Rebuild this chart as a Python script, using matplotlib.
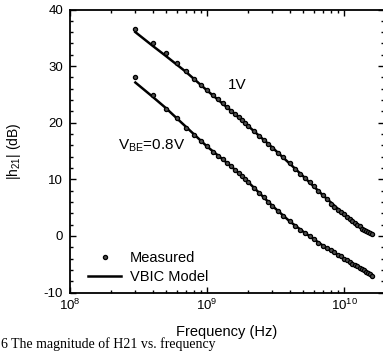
import matplotlib
matplotlib.use("Agg")
import matplotlib.pyplot as plt
from matplotlib.ticker import MultipleLocator, LogLocator, NullFormatter

plt.rcParams['font.family'] = ['Liberation Sans', 'DejaVu Sans']
plt.rcParams['mathtext.fontset'] = 'custom'
plt.rcParams['mathtext.rm'] = 'Liberation Sans'
plt.rcParams['mathtext.it'] = 'Liberation Sans:italic'
plt.rcParams['axes.unicode_minus'] = False

# measured data, frequency in GHz, |h21| in dB
f_meas = [0.3, 0.4, 0.5, 0.6, 0.7, 0.8, 0.9, 1.0, 1.1, 1.2, 1.3, 1.4, 1.5, 1.6, 1.7, 1.8,
          1.9, 2.0, 2.2, 2.4, 2.6, 2.8, 3.0, 3.3, 3.6, 4.0, 4.4, 4.8, 5.2, 5.6, 6.0, 6.5,
          7.0, 7.5, 8.0, 8.5, 9.0, 9.5, 10.0, 10.5, 11.0, 11.5, 12.0, 12.5, 13.0, 13.5,
          14.0, 14.5, 15.0, 15.5, 16.0]
h21_1v = [36.5, 34.0, 32.3, 30.5, 29.1, 27.8, 26.7, 25.8, 24.9, 24.1, 23.4, 22.7, 22.1, 21.5,
          21.0, 20.4, 19.9, 19.4, 18.5, 17.7, 16.9, 16.2, 15.6, 14.7, 13.9, 12.8, 11.9, 11.0,
          10.2, 9.5, 8.8, 8.0, 7.2, 6.5, 5.6, 5.1, 4.6, 4.2, 3.8, 3.3, 2.9, 2.6, 2.3, 2.0,
          1.7, 1.3, 1.1, 0.9, 0.7, 0.5, 0.4]
h21_08v = [28.1, 24.9, 22.5, 20.8, 19.0, 17.8, 16.7, 15.8, 14.9, 14.2, 13.5, 12.9, 12.4, 11.7,
           11.1, 10.5, 10.0, 9.5, 8.5, 7.6, 6.8, 6.0, 5.3, 4.4, 3.6, 2.6, 1.8, 1.1, 0.5, -0.1,
           -0.6, -1.2, -1.7, -2.1, -2.5, -2.9, -3.3, -3.6, -4.0, -4.3, -4.6, -4.9, -5.2, -5.4,
           -5.7, -5.9, -6.1, -6.4, -6.6, -6.8, -7.0]

# VBIC model
f_model = [0.3, 0.4, 0.5, 0.7, 1.0, 1.5, 2.0, 3.0, 4.0, 5.0, 7.0, 10.0, 13.0, 16.0]
model_1v = [36.0, 33.6, 31.8, 29.0, 25.7, 22.1, 19.4, 15.6, 12.8, 10.6, 7.2, 3.8, 1.7, 0.4]
model_08v = [27.1, 24.6, 22.6, 19.3, 15.8, 12.3, 9.5, 5.3, 2.6, 0.8, -1.7, -4.0, -5.7, -7.0]

fm = [f * 1e9 for f in f_meas]
fmod = [f * 1e9 for f in f_model]

fig = plt.figure(figsize=(3.83, 3.51), dpi=100)
ax = fig.add_axes([70 / 383, 1 - 292.5 / 351, 313.5 / 383, 283 / 351])

ax.plot(fmod, model_1v, color='black', lw=1.8, label='VBIC Model')
ax.plot(fmod, model_08v, color='black', lw=1.8)
ax.plot(fm, h21_1v, 'o', ms=3.0, mfc='0.3', mec='black', mew=0.9, label='Measured')
ax.plot(fm, h21_08v, 'o', ms=3.0, mfc='0.3', mec='black', mew=0.9)

ax.set_xscale('log')
ax.set_xlim(1e8, 1.94e10)
ax.set_ylim(-10, 40)
ax.yaxis.set_major_locator(MultipleLocator(10))
ax.yaxis.set_minor_locator(MultipleLocator(2))
ax.xaxis.set_minor_locator(LogLocator(base=10, subs=range(2, 10)))
ax.xaxis.set_minor_formatter(NullFormatter())

ax.tick_params(which='both', direction='in', top=True, right=True, labelsize=9.5, width=1)
ax.tick_params(which='major', length=4)
ax.tick_params(which='minor', length=2.5)
ax.tick_params(axis='x', pad=4)
ax.tick_params(axis='y', pad=5)
for s in ax.spines.values():
    s.set_linewidth(1.3)
ax.spines['right'].set_visible(False)

ax.set_xlabel('Frequency (Hz)', fontsize=10.5)
ax.xaxis.set_label_coords(0.5, -0.115)
ax.xaxis.label.set_va('top')
ax.set_ylabel('|h$_{21}$| (dB)', fontsize=10)
ax.yaxis.set_label_coords(-0.15, 0.5)

ax.text(1.42e9, 26.7, '1V', fontsize=11, ha='left', va='center')
ax.text(2.24e8, 15.2, 'V$_{\\mathregular{BE}}$=0.8V', fontsize=11, ha='left', va='baseline')

handles, labels = ax.get_legend_handles_labels()
ax.legend(handles[::-1], labels[::-1], loc='lower left', bbox_to_anchor=(0.057, 0.03),
          frameon=False, fontsize=10.5, handlelength=2.3, handletextpad=0.6,
          labelspacing=0.35, borderpad=0, borderaxespad=0, markerscale=1.0)

fig.text(0.003, 0.0, '6 The magnitude of H21 vs. frequency',
         family='Liberation Serif', fontsize=10, va='bottom', ha='left')

fig.savefig('out.png', dpi=100)
